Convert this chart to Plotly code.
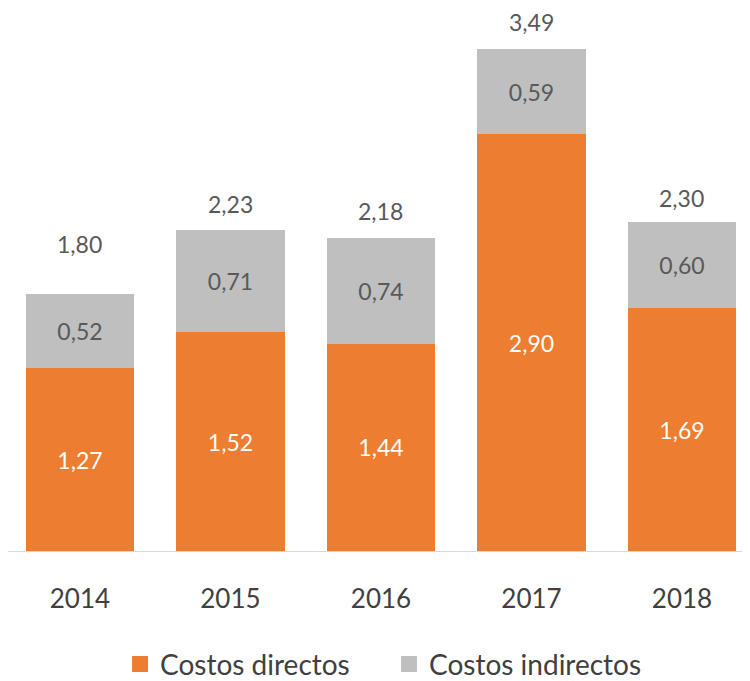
import plotly.graph_objects as go

years = ["2014", "2015", "2016", "2017", "2018"]
directos = [1.27, 1.52, 1.44, 2.90, 1.69]
indirectos = [0.52, 0.71, 0.74, 0.59, 0.60]
totales = [1.80, 2.23, 2.18, 3.49, 2.30]
label_shift = [50, 26, 27, 27, 24]
series_names = ["Costos directos", "Costos indirectos"]
series_colors = ["#ED7D31", "#BFBFBF"]

def fmt(v):
    return f"{v:.2f}".replace(".", ",")

FONT = "Lato"
fig = go.Figure()
fig.add_bar(x=years, y=directos, name=series_names[0], marker_color=series_colors[0],
            marker_line_width=0, showlegend=False,
            text=[fmt(v) for v in directos], textposition="inside", insidetextanchor="middle",
            textfont=dict(color="white", size=23, family=FONT), textangle=0)
fig.add_bar(x=years, y=indirectos, name=series_names[1], marker_color=series_colors[1],
            marker_line_width=0, showlegend=False,
            text=[fmt(v) for v in indirectos], textposition="inside", insidetextanchor="middle",
            textfont=dict(color="#595959", size=23, family=FONT), textangle=0)

# legend entries with larger square swatches
for nm, col in zip(series_names, series_colors):
    fig.add_scatter(x=[None], y=[None], mode="markers", name=nm,
                    marker=dict(symbol="square", size=18, color=col))

for idx, (d, i, t, s) in enumerate(zip(directos, indirectos, totales, label_shift)):
    fig.add_annotation(x=idx, y=d + i, xref="x", yref="y", text=fmt(t), showarrow=False,
                       yshift=s, font=dict(color="#595959", size=23, family=FONT))

fig.update_layout(
    width=742, height=673, barmode="stack", bargap=0.28,
    paper_bgcolor="white", plot_bgcolor="white",
    margin=dict(l=0, r=0, t=11, b=130, autoexpand=False),
    font=dict(family=FONT, color="#404040"),
    legend=dict(orientation="h", x=0.151, xanchor="left", y=-0.166, yanchor="top",
                font=dict(size=28, color="#404040", family=FONT), itemwidth=30,
                entrywidth=224, entrywidthmode="pixels", traceorder="normal"),
)
fig.update_xaxes(type="category", range=[-0.478, 4.452], showline=True, linecolor="#D9D9D9",
                 linewidth=1, showgrid=False, ticks="",
                 tickfont=dict(size=26, color="#404040", family=FONT), ticklabelstandoff=25)
fig.update_yaxes(range=[0, 3.7], visible=False, showgrid=False)

fig.write_html("out.html")
